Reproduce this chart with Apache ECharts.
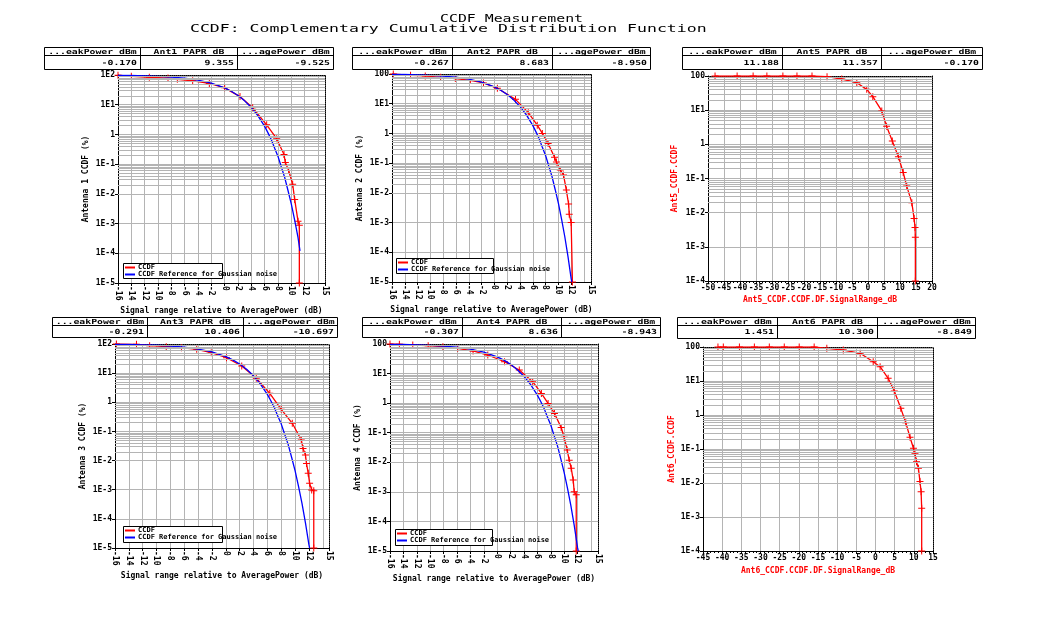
<!DOCTYPE html>
<html><head><meta charset="utf-8">
<script src="https://cdn.jsdelivr.net/npm/echarts@6/dist/echarts.min.js"></script>
<style>html,body{margin:0;padding:0;background:#fff}#c{width:1038px;height:619px}</style>
</head><body><div id="c"></div>
<script>
const FONT = '"DejaVu Sans Mono", monospace';

// ---- table values ----
const antNames = ['Ant1', 'Ant2', 'Ant5', 'Ant3', 'Ant4', 'Ant6'];
const peakVals = ['-0.170', '-0.267', '11.188', '-0.291', '-0.307', '1.451'];
const paprVals = ['9.355', '8.683', '11.357', '10.406', '8.636', '10.300'];
const avgVals  = ['-9.525', '-8.950', '-0.170', '-10.697', '-8.943', '-8.849'];

// ---- Gaussian reference curves (dB, %) ----
const refX  = [-16, -14, -12, -10, -8, -6, -4, -2, 0, 1, 2, 3, 4, 5, 6, 6.5, 7, 7.5, 8, 8.5, 9, 9.5, 10, 10.5, 11, 11.5, 12, 12.1];
const refY  = [97.5, 96.1, 93.9, 90.5, 85.4, 77.8, 67.2, 53.2, 36.8, 28.4, 20.5, 13.5, 8.1, 4.2, 1.87, 1.13, 0.665, 0.34, 0.182, 0.08, 0.036, 0.013, 0.0045, 0.0013, 0.00034, 0.000073, 0.000013, 0.00001];
const ref1X = [-16, -14, -12, -10, -8, -6, -4, -2, 0, 1, 2, 3, 4, 5, 6, 6.5, 7, 7.5, 8, 8.5, 9, 9.5, 10, 10.5, 11, 11.3];
const ref1Y = [97.5, 96.1, 93.9, 90.5, 85.4, 77.8, 67.2, 53.2, 36.8, 28.4, 20.5, 13.5, 8.1, 4.2, 1.87, 1.13, 0.665, 0.34, 0.182, 0.08, 0.036, 0.013, 0.0045, 0.0013, 0.00034, 0.00012];

// ---- measured CCDF curves (dB, %) ----
const ant1X = [-16, -14, -11.3, -8.5, -7.1, -4.8, -2.3, 0, 2.3, 4.2, 6.3, 7.8, 8.9, 9.1, 9.6, 10.2, 10.5, 11.0, 11.2, 11.2];
const ant1Y = [99, 90, 84, 79, 72, 64, 52, 37, 18.8, 7.9, 2.1, 0.72, 0.21, 0.113, 0.061, 0.021, 0.0065, 0.0012, 0.00088, 0.00001];
const ant2X = [-15.8, -13.1, -10.8, -8.4, -6.1, -3.75, -1.7, 0.47, 3.3, 5.3, 6.7, 7.5, 8.4, 9.4, 9.7, 10.3, 10.8, 11.25, 11.6, 11.7, 12.0, 12.2];
const ant2Y = [100, 90, 86, 77, 70, 61, 50, 33, 14, 5.0, 1.9, 1.0, 0.46, 0.157, 0.11, 0.059, 0.04, 0.0124, 0.0042, 0.0019, 0.001, 0.00001];
const ant5X = [-47.8, -40.9, -35.9, -31.6, -26.6, -22.2, -17.5, -12.8, -8.2, -3.5, -0.4, 1.5, 4.3, 5.8, 7.6, 9.5, 11.0, 12.1, 13.7, 14.4, 14.7, 14.8, 14.8];
const ant5Y = [100, 100, 100, 100, 100, 100, 100, 95.4, 81.7, 63.6, 40.7, 24.8, 9.5, 3.4, 1.25, 0.436, 0.15, 0.06, 0.0196, 0.0068, 0.0037, 0.0019, 0.0001];
const ant3X = [-15.8, -12.9, -11.0, -8.6, -6.4, -4.2, -2.1, 0.1, 2.3, 4.4, 6.35, 8.0, 9.6, 10.9, 11.15, 11.5, 11.65, 11.9, 12.1, 12.4, 12.7, 12.7];
const ant3Y = [100, 97.7, 87.5, 80.8, 74.6, 65.8, 50.2, 33.8, 17.6, 6.65, 2.03, 0.575, 0.19, 0.051, 0.026, 0.0155, 0.008, 0.0037, 0.00166, 0.00098, 0.00093, 0.00001];
const ant4X = [-16, -14.6, -12.6, -10.3, -8.1, -5.9, -3.6, -1.4, 1.1, 3.3, 5.3, 6.6, 7.6, 8.55, 9.55, 10.0, 10.45, 10.75, 11.05, 11.35, 11.5, 11.8, 11.8];
const ant4Y = [100, 99, 92, 88, 81, 71.5, 58, 42.4, 25.1, 13.2, 5.3, 2.13, 0.98, 0.45, 0.15, 0.07, 0.026, 0.0118, 0.0063, 0.0025, 0.001, 0.0008, 0.00001];
const ant6X = [-41.1, -39.7, -35.5, -31.6, -27.7, -23.8, -19.9, -16.0, -12.7, -8.4, -4.0, -0.6, 1.2, 3.3, 4.9, 6.6, 7.9, 9.0, 9.9, 10.3, 10.7, 11.2, 11.6, 11.9, 12.05, 12.05];
const ant6Y = [100, 100, 100, 100, 100, 100, 100, 100, 91.6, 81.6, 65.3, 37, 26.3, 12, 5.1, 1.57, 0.594, 0.221, 0.105, 0.0746, 0.042, 0.027, 0.011, 0.0055, 0.0018, 0.0001];

const xTitle = 'Signal range relative to AveragePower (dB)';

function pairs(x, y) { return x.map((v, i) => [v, y[i]]); }

const panels = [
  { grid: [118, 75, 207, 208], xmin: -16, xmax: 15.05, xint: 2, rot: -90, ymin: 1e-5, yfmt: 'E', xname: xTitle, yname: 'Antenna 1 CCDF (%)', ncolor: '#000', xgap: 24, ygap: 28, minor: 0, red: pairs(ant1X, ant1Y), blue: pairs(ref1X, ref1Y), legend: [123, 263, 99, 15], table: [44, 333, 140, 237, 47, 55, 69] },
  { grid: [392, 74, 199, 208], xmin: -16, xmax: 15.1, xint: 2, rot: -90, ymin: 1e-5, yfmt: 'N', xname: xTitle, yname: 'Antenna 2 CCDF (%)', ncolor: '#000', xgap: 24, ygap: 28, minor: 0, red: pairs(ant2X, ant2Y), blue: pairs(refX, refY), legend: [396, 258, 97, 15], table: [352, 650, 452, 552, 47, 55, 69] },
  { grid: [708, 76, 224, 205], xmin: -50, xmax: 20, xint: 5, rot: 0, ymin: 1e-4, yfmt: 'N', xname: 'Ant5_CCDF.CCDF.DF.SignalRange_dB', yname: 'Ant5_CCDF.CCDF', ncolor: '#ff0000', xgap: 15, ygap: 29, minor: 5, red: pairs(ant5X, ant5Y), blue: null, legend: null, table: [682, 982, 782, 881, 47, 55, 69] },
  { grid: [115, 344, 214, 204], xmin: -16, xmax: 14.9, xint: 2, rot: -90, ymin: 1e-5, yfmt: 'E', xname: xTitle, yname: 'Antenna 3 CCDF (%)', ncolor: '#000', xgap: 24, ygap: 28, minor: 0, red: pairs(ant3X, ant3Y), blue: pairs(refX, refY), legend: [123, 526, 99, 16], table: [52, 337, 147, 243, 317, 325, 337] },
  { grid: [390, 344, 208, 207], xmin: -16, xmax: 15.05, xint: 2, rot: -90, ymin: 1e-5, yfmt: 'N', xname: xTitle, yname: 'Antenna 4 CCDF (%)', ncolor: '#000', xgap: 24, ygap: 28, minor: 0, red: pairs(ant4X, ant4Y), blue: pairs(refX, refY), legend: [395, 529, 97, 16], table: [362, 660, 462, 561, 317, 325, 337] },
  { grid: [703, 347, 230, 204], xmin: -45, xmax: 15, xint: 5, rot: 0, ymin: 1e-4, yfmt: 'N', xname: 'Ant6_CCDF.CCDF.DF.SignalRange_dB', yname: 'Ant6_CCDF.CCDF', ncolor: '#ff0000', xgap: 16, ygap: 27, minor: 5, red: pairs(ant6X, ant6Y), blue: null, legend: null, table: [677, 975, 777, 877, 317, 325, 338] }
];

const PLUS = 'path://M3,0H4V3H7V4H4V7H3V4H0V3H3Z';
const GRIDC = '#b4b4b4';
const lblStyle = { fontFamily: FONT, fontWeight: 'bold', fontSize: 8, color: '#000' };

function yLabel(fmt) {
  return function (v) {
    const e = Math.round(Math.log10(v));
    if (e === 0) return '1';
    if (e === 2 && fmt === 'N') return '100';
    return '1E' + e;
  };
}
function xLabel(v) {
  return Math.abs(v - Math.round(v)) < 1e-9 ? String(v) : String(Math.round(v));
}

const grids = [], xMain = [], yMain = [], xFrame = [], yFrame = [], series = [], legends = [], graphics = [];

panels.forEach((p, i) => {
  grids.push({ left: p.grid[0], top: p.grid[1], width: p.grid[2], height: p.grid[3], outerBoundsMode: 'none', containLabel: false });
  xMain.push({
    type: 'value', gridIndex: i, min: p.xmin, max: p.xmax, interval: p.xint, position: 'bottom',
    axisLine: { show: true, onZero: false, lineStyle: { color: '#000', width: 1 } },
    axisTick: { show: true, length: 3, lineStyle: { color: '#000' } },
    minorTick: { show: p.minor > 0, splitNumber: p.minor || 5, length: 2, lineStyle: { color: '#000' } },
    axisLabel: Object.assign({ rotate: p.rot, margin: 3, showMinLabel: true, showMaxLabel: true, hideOverlap: false, formatter: xLabel }, lblStyle),
    splitLine: { show: true, lineStyle: { color: GRIDC, width: 1 } },
    name: p.xname, nameLocation: 'middle', nameGap: p.xgap, nameMoveOverlap: false,
    nameTextStyle: { fontFamily: FONT, fontWeight: 'bold', fontSize: 8, color: p.ncolor }
  });
  yMain.push({
    type: 'log', logBase: 10, gridIndex: i, min: p.ymin, max: 100, position: 'left',
    axisLine: { show: true, onZero: false, lineStyle: { color: '#000', width: 1 } },
    axisTick: { show: true, length: 3, lineStyle: { color: '#000' } },
    axisLabel: Object.assign({ margin: 3, showMinLabel: true, showMaxLabel: true, hideOverlap: false, formatter: yLabel(p.yfmt) }, lblStyle),
    splitLine: { show: true, lineStyle: { color: GRIDC, width: 1 } },
    name: p.yname, nameLocation: 'middle', nameGap: p.ygap, nameMoveOverlap: false,
    nameTextStyle: { fontFamily: FONT, fontWeight: 'bold', fontSize: 8, color: p.ncolor }
  });
  // right & top dotted frame
  xFrame.push({ type: 'value', gridIndex: i, min: p.xmin, max: p.xmax, position: 'top',
    axisLine: { show: true, onZero: false, lineStyle: { color: '#000', width: 1, type: 'dotted' } },
    axisTick: { show: false }, axisLabel: { show: false }, splitLine: { show: false } });
  yFrame.push({ type: 'log', logBase: 10, gridIndex: i, min: p.ymin, max: 100, position: 'right',
    axisLine: { show: true, onZero: false, lineStyle: { color: '#000', width: 1, type: 'dotted' } },
    axisTick: { show: false }, axisLabel: { show: false }, splitLine: { show: false } });

  // minor log grid lines (2..9 per decade)
  const minors = [];
  for (let d = Math.round(Math.log10(p.ymin)); d < 2; d++) {
    for (let k = 2; k <= 9; k++) minors.push(Number((k * Math.pow(10, d)).toPrecision(6)));
  }
  series.push({
    type: 'line', xAxisIndex: i, yAxisIndex: i, data: [], silent: true, z: 1,
    markLine: { silent: true, animation: false, symbol: ['none', 'none'], label: { show: false },
      lineStyle: { color: GRIDC, width: 1, type: 'solid' }, data: minors.map(v => ({ yAxis: v })) }
  });
  series.push({
    type: 'line', name: 'CCDF', xAxisIndex: i, yAxisIndex: i, data: p.red, z: 3,
    symbol: PLUS, symbolSize: 7, showSymbol: true, showAllSymbol: true,
    lineStyle: { color: '#ff0000', width: 1.3 }, itemStyle: { color: '#ff0000' }
  });
  if (p.blue) {
    series.push({
      type: 'line', name: 'CCDF Reference for Gaussian noise', xAxisIndex: i, yAxisIndex: i, data: p.blue, z: 4,
      symbol: 'none', lineStyle: { color: '#0000ff', width: 1.3 }, itemStyle: { color: '#0000ff' }
    });
  }
  if (p.legend) {
    const [lx, ly, lw, lh] = p.legend;
    graphics.push({ type: 'rect', z: 10, shape: { x: lx + 0.5, y: ly + 0.5, width: lw, height: lh }, style: { fill: '#fff', stroke: '#000', lineWidth: 1 } });
    legends.push({
      data: ['CCDF', 'CCDF Reference for Gaussian noise'], left: lx + 2, top: ly + 1, orient: 'vertical',
      padding: 0, itemGap: 0, itemWidth: 10, itemHeight: 2, icon: 'rect', selectedMode: false, z: 20,
      textStyle: { fontFamily: FONT, fontWeight: 'bold', fontSize: 7, lineHeight: 7, color: '#000', padding: [0, 0, 0, -2] }
    });
  }

  // table
  const [l, r, d1, d2, t, m, b] = p.table;
  graphics.push({ type: 'rect', shape: { x: l + 0.5, y: t + 0.5, width: r - l, height: b - t }, style: { fill: '#fff', stroke: '#000', lineWidth: 1 } });
  graphics.push({ type: 'line', shape: { x1: l, y1: m + 0.5, x2: r, y2: m + 0.5 }, style: { stroke: '#000', lineWidth: 1 } });
  graphics.push({ type: 'line', shape: { x1: d1 + 0.5, y1: t, x2: d1 + 0.5, y2: b }, style: { stroke: '#000', lineWidth: 1 } });
  graphics.push({ type: 'line', shape: { x1: d2 + 0.5, y1: t, x2: d2 + 0.5, y2: b }, style: { stroke: '#000', lineWidth: 1 } });
  const heads = ['...eakPower_dBm', antNames[i] + '_PAPR_dB', '...agePower_dBm'];
  const vals = [peakVals[i], paprVals[i], avgVals[i]];
  const cols = [[l, d1], [d1, d2], [d2, r]];
  cols.forEach((c, k) => {
    graphics.push({ type: 'text', x: (c[0] + c[1]) / 2 + 0.5, y: (t + m) / 2 + 1, scaleX: 1.4,
      style: { text: heads[k], font: 'bold 7px ' + FONT, fill: '#000', textAlign: 'center', textVerticalAlign: 'middle', align: 'center', verticalAlign: 'middle' } });
    graphics.push({ type: 'text', x: c[1] - 3, y: (m + b) / 2 + 1, scaleX: 1.4,
      style: { text: vals[k], font: 'bold 7px ' + FONT, fill: '#000', textAlign: 'right', textVerticalAlign: 'middle', align: 'right', verticalAlign: 'middle' } });
  });
});

graphics.push({ type: 'text', x: 440, y: 19, scaleX: 1.35,
  style: { text: 'CCDF Measurement', font: '11px ' + FONT, fill: '#000', textAlign: 'left', textVerticalAlign: 'middle', align: 'left', verticalAlign: 'middle' } });
graphics.push({ type: 'text', x: 190, y: 29, scaleX: 1.5,
  style: { text: 'CCDF: Complementary Cumulative Distribution Function', font: '11px ' + FONT, fill: '#000', textAlign: 'left', textVerticalAlign: 'middle', align: 'left', verticalAlign: 'middle' } });

const chart = echarts.init(document.getElementById('c'), null, { renderer: 'canvas' });
chart.setOption({
  backgroundColor: '#fff',
  animation: false,
  grid: grids,
  xAxis: xMain.concat(xFrame),
  yAxis: yMain.concat(yFrame),
  legend: legends,
  series: series,
  graphic: graphics
});
</script></body></html>
